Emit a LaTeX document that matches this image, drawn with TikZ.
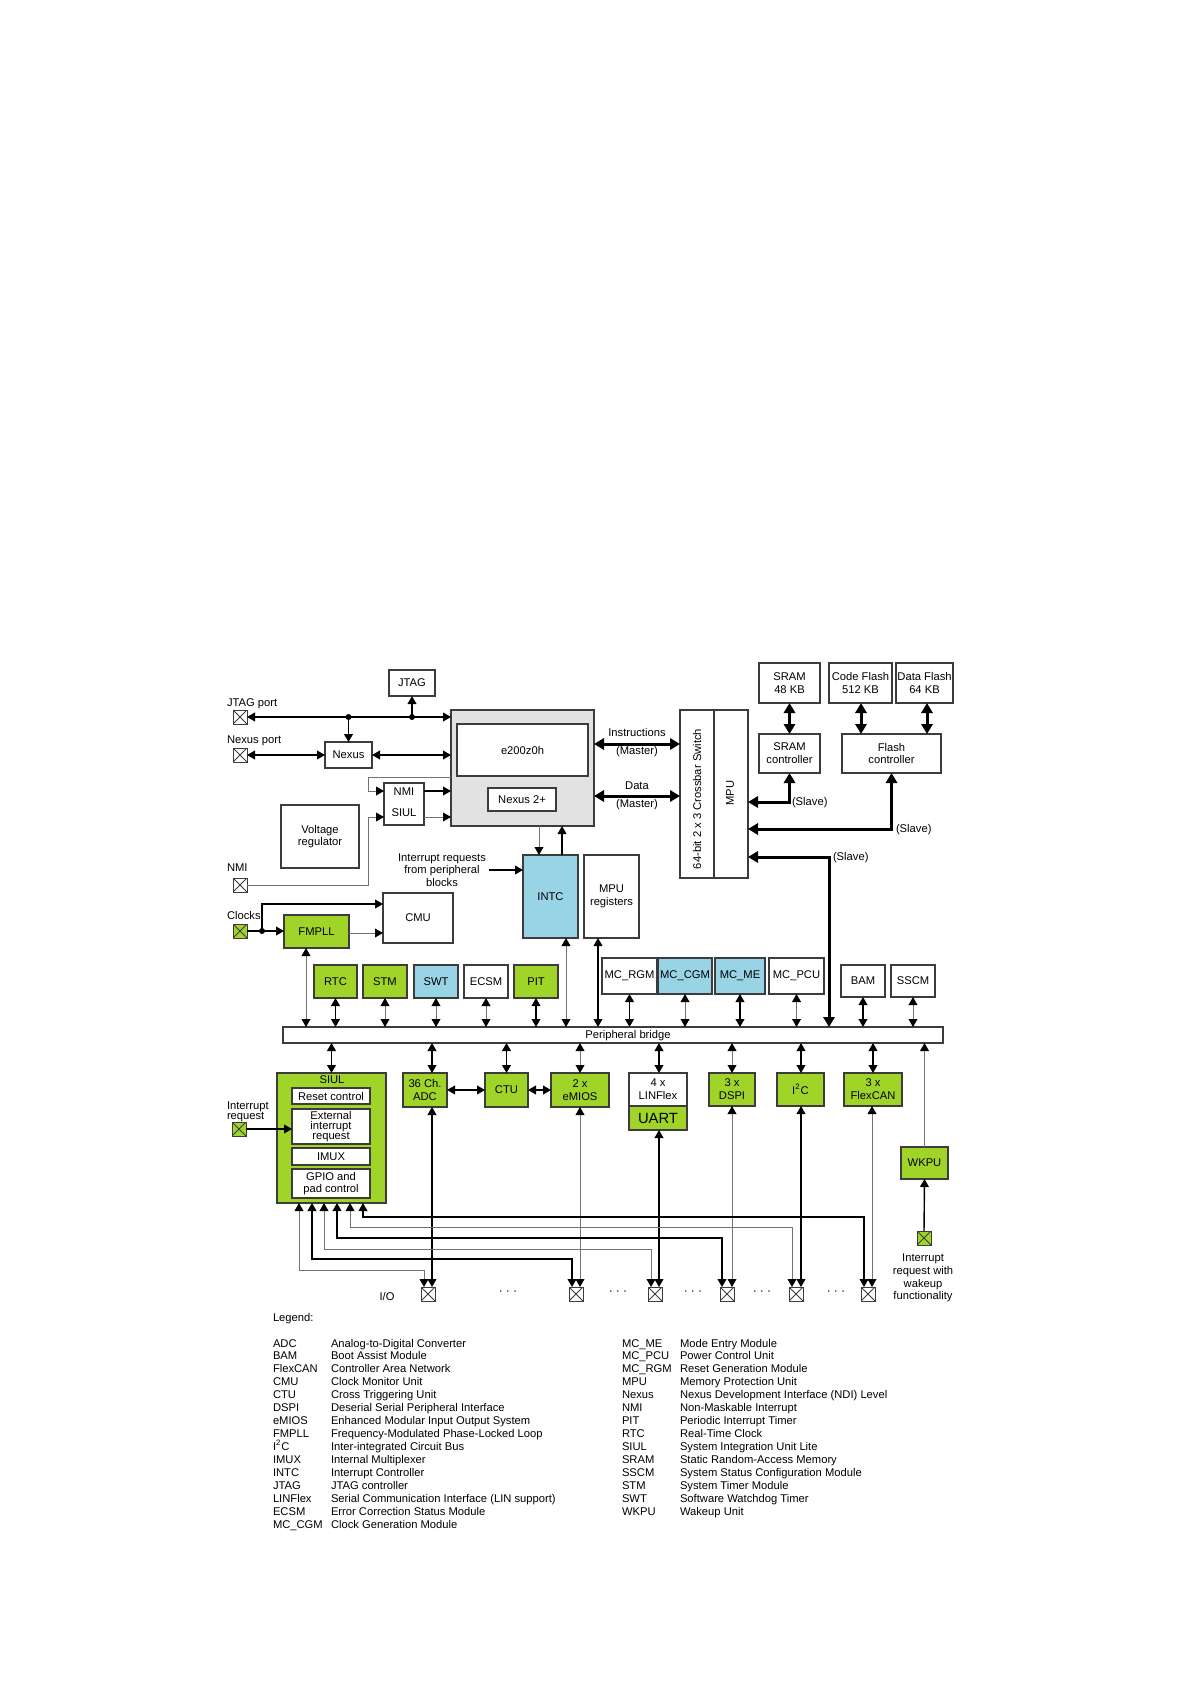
\documentclass[tikz,border=0pt]{standalone}
\usepackage{fontspec}
\setmainfont{Liberation Sans}
\usetikzlibrary{arrows.meta}
\definecolor{lgreen}{RGB}{160,212,40}
\definecolor{lblue}{RGB}{152,212,230}
\definecolor{coregray}{RGB}{226,226,226}
\definecolor{edge}{RGB}{60,60,60}
\newcommand{\bx}[7]{\node[#6, minimum width={(#4-#2)*0.5pt}, minimum height={(#5-#3)*0.5pt}] (#1) at ({(#2+#4)/2},{(#3+#5)/2}) {#7};}
\tikzset{
 every node/.style={font=\fontsize{5.6}{6.4}\selectfont, inner sep=0pt, outer sep=0pt},
 blk/.style={draw=edge, line width=0.6pt, fill=white, align=center},
 grn/.style={blk, fill=lgreen},
 blu/.style={blk, fill=lblue},
 pad/.style={draw=edge, line width=0.5pt, fill=white, minimum size=7pt,
   path picture={\draw[line width=0.4pt,edge] (path picture bounding box.south west)--(path picture bounding box.north east) (path picture bounding box.north west)--(path picture bounding box.south east);}},
 gpad/.style={pad, fill=lgreen},
 bl/.style={line width=0.7pt, black},
 gl/.style={line width=0.5pt, black!55},
 tk/.style={line width=1.5pt, black, >={Triangle[length=5pt,width=5.6pt,color=black]}},
}
\begin{document}
\begin{tikzpicture}[x=0.5pt, y=-0.5pt, >={Triangle[length=4pt,width=4.4pt,color=black]}]
\useasboundingbox[fill=white] (0,0) rectangle (1191,1684);

% ---------- top left ----------
\bx{jtag}{389}{670}{435}{696}{blk}{JTAG}
\node[pad] (jtagport) at (240,717) {};
\node[anchor=west] (ljtagport) at (227,704) {JTAG port};
\bx{nexus}{325}{742}{372}{768}{blk}{Nexus}
\node[pad] (nexusport) at (240,755) {};
\node[anchor=west] (lnexusport) at (227,741) {Nexus port};
\bx{core}{451}{710}{594}{826}{blk,fill=coregray}{}
\bx{e200}{457}{724}{588}{776}{blk}{e200z0h}
\bx{nexus2}{488}{788}{556}{811}{blk}{Nexus 2+}
\bx{nmibox}{384}{783}{424}{825}{blk}{}
\node (nmitxt) at (404,792) {NMI};
\node (siultxt) at (404,813) {SIUL};
\bx{volt}{281}{805}{359}{868}{blk}{Voltage\\regulator}
\node[pad] (nmipad) at (240,885) {};
\node[anchor=west] (lnmi) at (227,868) {NMI};
\node[align=center] (intreq) at (442,870) {Interrupt requests\\from peripheral\\blocks};
\bx{intc}{523}{855}{578}{938}{blu}{INTC}
\bx{mpureg}{584}{855}{639}{938}{blk}{MPU\\registers}
\node[anchor=west] (lclocks) at (227,915) {Clocks};
\node[gpad] (clockpad) at (240,931) {};
\bx{fmpll}{284}{915}{349}{948}{grn}{FMPLL}
\bx{cmu}{383}{893}{453}{943}{blk}{CMU}

% ---------- crossbar and memories ----------
\bx{xbar}{680}{710}{714}{878}{blk}{}
\node[rotate=90] (xbartxt) at (697,799) {64-bit 2 x 3 Crossbar Switch};
\bx{mpu}{714}{710}{748}{878}{blk}{}
\node[rotate=90] (mputxt) at (730,793) {MPU};
\bx{sram}{759}{663}{820}{703}{blk}{SRAM\\48 KB}
\bx{cflash}{829}{663}{892}{703}{blk}{Code Flash\\512 KB}
\bx{dflash}{896}{663}{953}{703}{blk}{Data Flash\\64 KB}
\bx{sramc}{759}{734}{820}{773}{blk}{SRAM\\controller}
\bx{flashc}{842}{734}{941}{773}{blk}{Flash\\controller}
\node (linstr) at (637,732) {Instructions};
\node (lmast1) at (637,752) {(Master)};
\node (ldata) at (637,786) {Data};
\node (lmast2) at (637,805) {(Master)};
\node[anchor=west] (lslave1) at (792,803) {(Slave)};
\node[anchor=west] (lslave2) at (896,830) {(Slave)};
\node[anchor=west] (lslave3) at (833,858) {(Slave)};

% ---------- peripheral row ----------
\bx{rtc}{314}{965}{357}{998}{grn}{RTC}
\bx{stm}{363}{965}{407}{998}{grn}{STM}
\bx{swt}{414}{965}{458}{998}{blu}{SWT}
\bx{ecsm}{464}{965}{508}{998}{blk}{ECSM}
\bx{pit}{514}{965}{558}{998}{grn}{PIT}
\bx{mcrgm}{602}{958}{657}{994}{blk}{MC\_RGM}
\bx{mccgm}{658}{958}{712}{994}{blu}{MC\_CGM}
\bx{mcme}{715}{958}{765}{994}{blu}{MC\_ME}
\bx{mcpcu}{769}{958}{824}{994}{blk}{MC\_PCU}
\bx{bam}{841}{965}{885}{997}{blk}{BAM}
\bx{sscm}{891}{965}{935}{997}{blk}{SSCM}
\bx{bridge}{283}{1027}{943}{1043}{blk}{}
\node (bridgetxt) at (628,1036) {Peripheral bridge};

% ---------- bottom modules ----------
\bx{siul}{277}{1073}{386}{1203}{grn}{}
\node (siultitle) at (332,1080) {SIUL};
\bx{reset}{292}{1088}{370}{1104}{blk}{Reset control}
\bx{extint}{292}{1109}{370}{1144}{blk,font=\fontsize{5.6}{4.9}\selectfont}{External\\interrupt\\request}
\bx{imux}{292}{1148}{370}{1165}{blk}{IMUX}
\bx{gpio}{292}{1169}{370}{1198}{blk}{GPIO and\\pad control}
\node[anchor=west, align=left, font=\fontsize{5.6}{5}\selectfont] (lintreq) at (227,1112) {Interrupt\\request};
\node[gpad] (intpad) at (239,1129) {};
\bx{adc}{403}{1073}{447}{1107}{grn}{36 Ch.\\ADC}
\bx{ctu}{485}{1073}{528}{1107}{grn}{CTU}
\bx{emios}{551}{1073}{609}{1107}{grn}{2 x\\eMIOS}
\bx{linflex}{629}{1073}{687}{1106}{blk}{4 x\\LINFlex}
\bx{uart}{629}{1106}{687}{1130}{grn,font=\fontsize{7.4}{8}\selectfont}{UART}
\bx{dspi}{709}{1073}{755}{1106}{grn}{3 x\\DSPI}
\bx{i2c}{777}{1073}{824}{1106}{grn}{I\textsuperscript{2}C}
\bx{flexcan}{844}{1073}{902}{1106}{grn}{3 x\\FlexCAN}
\bx{wkpu}{901}{1147}{948}{1179}{grn}{WKPU}
\node[gpad] (wkpad) at (924,1238) {};
\node[align=center] (lwk) at (923,1278) {Interrupt\\request with\\wakeup\\functionality};

\node[pad] (p1) at (428,1294) {};
\node[pad] (p2) at (576,1294) {};
\node[pad] (p3) at (655,1294) {};
\node[pad] (p4) at (727,1294) {};
\node[pad] (p5) at (796,1294) {};
\node[pad] (p6) at (868,1294) {};
\node (lio) at (387,1296) {I/O};
\node (d1) at (508,1292) {$\cdots$};
\node (d2) at (618,1292) {$\cdots$};
\node (d3) at (693,1292) {$\cdots$};
\node (d4) at (762,1292) {$\cdots$};
\node (d5) at (836,1292) {$\cdots$};

% ---------- connectors: top ----------
\coordinate (jd1) at (nexus.north |- jtagport.east);
\coordinate (jd2) at (jtag.south |- jtagport.east);
\draw[bl,<->] (jtagport.east) -- (jtagport.east -| core.west);
\fill (jd1) circle[radius=1.5pt];
\fill (jd2) circle[radius=1.5pt];
\draw[bl,->] (jd1) -- (nexus.north);
\draw[bl,->] (jd2) -- (jtag.south);
\draw[bl,<->] (nexusport.east) -- (nexus.west);
\draw[bl,<->] (nexus.east) -- (nexus.east -| core.west);
\draw[gl,->] (core.west |- 0,777) -| (368,791) -- (nmibox.west |- 0,791);
\draw[bl,->] (nmibox.east |- 0,791) -- (core.west |- 0,791);
\draw[gl,->] (nmibox.east |- 0,817) -- (core.west |- 0,817);
\draw[gl,->] (nmipad.east) -| (368,817) -- (nmibox.west |- 0,817);
\draw[gl,->] (core.south -| 539,0) -- (intc.north -| 539,0);
\draw[bl,->] (intc.north -| 562,0) -- (core.south -| 562,0);
\draw[bl,->] ([xshift=1.5pt]intreq.east) -- (intreq.east -| intc.west);
\coordinate (cd) at (262,931);
\draw[bl,->] (clockpad.east) -- (fmpll.west |- clockpad.east);
\fill (cd) circle[radius=1.5pt];
\draw[bl,->] (cd) |- (cmu.west |- 0,904);
\draw[gl,->] (fmpll.east |- 0,933) -- (cmu.west |- 0,933);
\draw[gl,<->] (fmpll.south -| 306,0) -- (bridge.north -| 306,0);

\foreach \n/\s in {rtc/bl, stm/gl, swt/gl, ecsm/gl, pit/bl, mcrgm/bl, mccgm/gl, mcme/bl, mcpcu/gl, bam/bl, sscm/gl}
  \draw[\s,<->] (\n.south) -- (\n.south |- bridge.north);
\draw[gl,<->] (intc.south -| 566,0) -- (bridge.north -| 566,0);
\draw[bl,<->] (mpureg.south -| 598,0) -- (bridge.north -| 598,0);

% crossbar
\draw[tk,<->] (core.east |- 0,744) -- (xbar.west |- 0,744);
\draw[tk,<->] (core.east |- 0,796) -- (xbar.west |- 0,796);
\draw[tk,<->] (sram.south) -- (sramc.north);
\draw[tk,<->] (cflash.south -| 861,0) -- (flashc.north -| 861,0);
\draw[tk,<->] (dflash.south -| 927,0) -- (flashc.north -| 927,0);
\draw[tk,<->] (mpu.east |- 0,802) -| (sramc.south);
\draw[tk,<->] (mpu.east |- 0,829) -| (flashc.south);
\draw[tk,<->] (mpu.east |- 0,857) -| (bridge.north -| 829,0);

% ---------- connectors: bottom ----------
\draw[bl,<->] (siul.north) -- (siul.north |- bridge.south);
\draw[bl,<->] (adc.north -| 432,0) -- (bridge.south -| 432,0);
\draw[bl,<->] (ctu.north) -- (ctu.north |- bridge.south);
\draw[gl,<->] (emios.north) -- (emios.north |- bridge.south);
\draw[bl,<->] (linflex.north -| 659,0) -- (bridge.south -| 659,0);
\draw[gl,<->] (dspi.north) -- (dspi.north |- bridge.south);
\draw[bl,<->] (i2c.north -| 801,0) -- (bridge.south -| 801,0);
\draw[bl,<->] (flexcan.north) -- (flexcan.north |- bridge.south);
\draw[gl,->] (wkpu.north) -- (wkpu.north |- bridge.south);
\draw[bl,->] (wkpad.north) -- (wkpu.south);
\draw[bl,<->] (adc.east |- 0,1090) -- (ctu.west |- 0,1090);
\draw[bl,<->] (ctu.east |- 0,1090) -- (emios.west |- 0,1090);
\draw[bl,->] (intpad.east) -- (extint.west |- intpad.east);

\draw[bl,<->] (adc.south -| 432,0) -- (p1.north -| 432,0);
\draw[gl,<->] (emios.south -| 580,0) -- (p2.north -| 580,0);
\draw[bl,<->] (uart.south -| 659,0) -- (p3.north -| 659,0);
\draw[gl,<->] (dspi.south -| 732,0) -- (p4.north -| 732,0);
\draw[bl,<->] (i2c.south -| 801,0) -- (p5.north -| 801,0);
\draw[gl,<->] (flexcan.south -| 872,0) -- (p6.north -| 872,0);

\draw[gl,<->] (siul.south -| 299,0) |- (424,1270) -- (p1.north -| 424,0);
\draw[bl,<->] (siul.south -| 312,0) |- (572,1259) -- (p2.north -| 572,0);
\draw[gl,<->] (siul.south -| 324,0) |- (651,1249) -- (p3.north -| 651,0);
\draw[bl,<->] (siul.south -| 337,0) |- (722,1238) -- (p4.north -| 722,0);
\draw[gl,<->] (siul.south -| 350,0) |- (792,1227) -- (p5.north -| 792,0);
\draw[bl,<->] (siul.south -| 363,0) |- (864,1217) -- (p6.north -| 864,0);

% ---------- legend ----------
\node[anchor=base west] (legend) at (273,1321) {Legend:};
\foreach \a/\d [count=\i] in {ADC/Analog-to-Digital Converter, BAM/Boot Assist Module, FlexCAN/Controller Area Network, CMU/Clock Monitor Unit, CTU/Cross Triggering Unit, DSPI/Deserial Serial Peripheral Interface, eMIOS/Enhanced Modular Input Output System, FMPLL/Frequency-Modulated Phase-Locked Loop, {I\textsuperscript{2}C}/Inter-integrated Circuit Bus, IMUX/Internal Multiplexer, INTC/Interrupt Controller, JTAG/JTAG controller, LINFlex/Serial Communication Interface (LIN support), ECSM/Error Correction Status Module, {MC\_CGM}/Clock Generation Module}
{
  \node[anchor=base west] (la\i) at (273,{1347+(\i-1)*12.95}) {\a};
  \node[anchor=base west] (ld\i) at (331,{1347+(\i-1)*12.95}) {\d};
}
\foreach \a/\d [count=\i] in {{MC\_ME}/Mode Entry Module, {MC\_PCU}/Power Control Unit, {MC\_RGM}/Reset Generation Module, MPU/Memory Protection Unit, Nexus/Nexus Development Interface (NDI) Level, NMI/Non-Maskable Interrupt, PIT/Periodic Interrupt Timer, RTC/Real-Time Clock, SIUL/System Integration Unit Lite, SRAM/Static Random-Access Memory, SSCM/System Status Configuration Module, STM/System Timer Module, SWT/Software Watchdog Timer, WKPU/Wakeup Unit}
{
  \node[anchor=base west] (ra\i) at (622,{1347+(\i-1)*12.95}) {\a};
  \node[anchor=base west] (rd\i) at (680,{1347+(\i-1)*12.95}) {\d};
}
\end{tikzpicture}
\end{document}
